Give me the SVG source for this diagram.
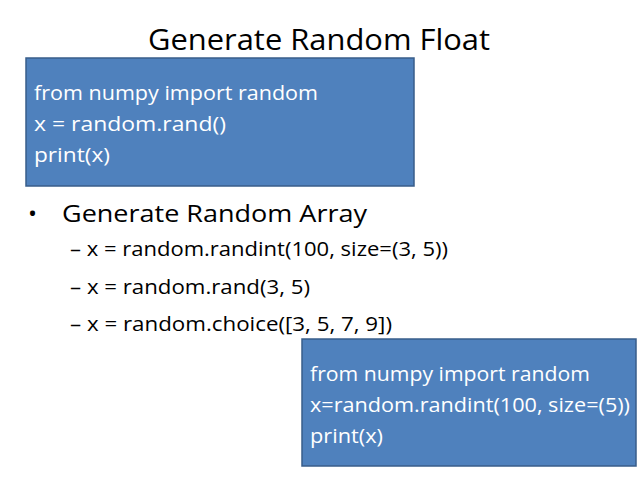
<svg xmlns="http://www.w3.org/2000/svg" width="638" height="478" viewBox="0 0 638 478">
<style>
.box{fill:#4F81BD;stroke:#385D8A;stroke-width:1.5}
.w{fill:#fff;font-family:"Open Sans","Liberation Sans",sans-serif;font-size:20px}
.k{fill:#000;font-family:"Open Sans","Liberation Sans",sans-serif}
</style>
<rect width="638" height="478" fill="#fff"/>
<g id="title"><text class="k" x="148" y="50" font-size="30" textLength="342" lengthAdjust="spacingAndGlyphs">Generate Random Float</text></g>
<g id="box1">
<rect class="box" x="26" y="58" width="388" height="128"/>
<text class="w" x="34" y="100" textLength="284" lengthAdjust="spacingAndGlyphs">from numpy import random</text>
<text class="w" x="34" y="131" textLength="192" lengthAdjust="spacingAndGlyphs">x = random.rand()</text>
<text class="w" x="34" y="162" textLength="76" lengthAdjust="spacingAndGlyphs">print(x)</text>
</g>
<g id="bullets">
<text class="k" x="28" y="222" font-size="24">•</text>
<text class="k" x="62" y="222" font-size="24" textLength="305" lengthAdjust="spacingAndGlyphs">Generate Random Array</text>
<text class="k" x="70" y="256" font-size="20" textLength="378" lengthAdjust="spacingAndGlyphs">– x = random.randint(100, size=(3, 5))</text>
<text class="k" x="70" y="294" font-size="20" textLength="240" lengthAdjust="spacingAndGlyphs">– x = random.rand(3, 5)</text>
<text class="k" x="70" y="331" font-size="20" textLength="322" lengthAdjust="spacingAndGlyphs">– x = random.choice([3, 5, 7, 9])</text>
</g>
<g id="box2">
<rect class="box" x="302" y="339" width="334" height="127"/>
<text class="w" x="310" y="381" textLength="280" lengthAdjust="spacingAndGlyphs">from numpy import random</text>
<text class="w" x="310" y="412" textLength="320" lengthAdjust="spacingAndGlyphs">x=random.randint(100, size=(5))</text>
<text class="w" x="310" y="443" textLength="73" lengthAdjust="spacingAndGlyphs">print(x)</text>
</g>
<g id="connectors"/>
</svg>
